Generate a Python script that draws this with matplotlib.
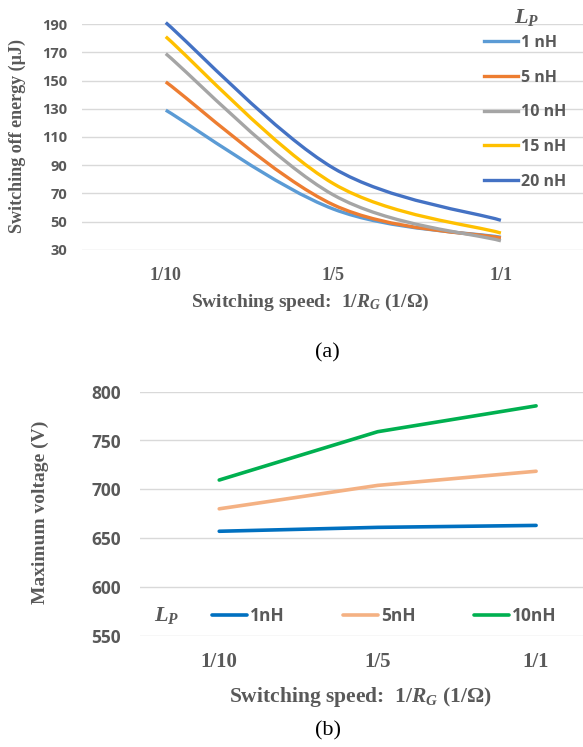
import matplotlib
matplotlib.use('Agg')
import matplotlib.pyplot as plt
from matplotlib.path import Path
from matplotlib.patches import PathPatch
from matplotlib.lines import Line2D

# ---------------- data ----------------
categories = ['1/10', '1/5', '1/1']

energy_labels = ['1 nH', '5 nH', '10 nH', '15 nH', '20 nH']
energy_1nH = [129, 59, 39]
energy_5nH = [149, 62, 38.5]
energy_10nH = [169, 69, 36.5]
energy_15nH = [181, 77, 42]
energy_20nH = [191, 88, 51]
energy_ticks = [30, 50, 70, 90, 110, 130, 150, 170, 190]

voltage_labels = ['1nH', '5nH', '10nH']
voltage_1nH = [657, 661, 663]
voltage_5nH = [680, 704, 718.5]
voltage_10nH = [709.5, 759, 785.5]
voltage_ticks = [550, 600, 650, 700, 750, 800]

energy_colors = ['#5B9BD5', '#ED7D31', '#A5A5A5', '#FFC000', '#4472C4']
voltage_colors = ['#0070C0', '#F4B183', '#00B050']

# ---------------- style ----------------
plt.rcParams['mathtext.fontset'] = 'custom'
plt.rcParams['mathtext.rm'] = 'Liberation Serif:bold'
plt.rcParams['mathtext.it'] = 'Liberation Serif:italic:bold'
plt.rcParams['mathtext.bf'] = 'Liberation Serif:bold'

TXT = '#595959'
GRID = '#D9D9D9'
SERIF = 'Liberation Serif'
SANS = 'Open Sans'

W, H = 583, 747
fig = plt.figure(figsize=(W / 100, H / 100), dpi=100)


def fx(px):
    return px / W


def fy(py):
    return 1 - py / H


def smooth_path(xs, ys):
    """Catmull-Rom style smoothed line through the points (as Excel does)."""
    pts = list(zip(xs, ys))
    n = len(pts)
    verts = [pts[0]]
    codes = [Path.MOVETO]
    for i in range(n - 1):
        p0 = pts[i - 1] if i > 0 else pts[i]
        p1 = pts[i]
        p2 = pts[i + 1]
        p3 = pts[i + 2] if i + 2 < n else pts[i + 1]
        c1 = (p1[0] + (p2[0] - p0[0]) / 6, p1[1] + (p2[1] - p0[1]) / 6)
        c2 = (p2[0] - (p3[0] - p1[0]) / 6, p2[1] - (p3[1] - p1[1]) / 6)
        verts += [c1, c2, p2]
        codes += [Path.CURVE4] * 3
    return Path(verts, codes)


def style_axes(ax, ticks, ylab_size, ypad, xlab_size, xpad):
    for s in ax.spines.values():
        s.set_visible(False)
    ax.set_yticks(ticks)
    ax.yaxis.grid(True, color=GRID, lw=1.0)
    ax.xaxis.grid(False)
    ax.set_axisbelow(True)
    ax.tick_params(axis='both', length=0)
    ax.tick_params(axis='y', pad=ypad)
    ax.tick_params(axis='x', pad=xpad)
    ax.set_xticks(range(len(categories)))
    ax.set_xticklabels(categories, fontfamily=SERIF, fontweight='bold',
                       fontsize=xlab_size, color=TXT)
    for lab in ax.get_yticklabels():
        lab.set_fontfamily(SANS)
        lab.set_fontweight('bold')
        lab.set_fontsize(ylab_size)
        lab.set_color(TXT)


# ---------------- (a) switching-off energy ----------------
ax1 = fig.add_axes([fx(82), fy(250), 1 - fx(82), (250 - 24) / H])
xs = list(range(len(categories)))
energy_series = [energy_1nH, energy_5nH, energy_10nH, energy_15nH, energy_20nH]
handles = []
for vals, col, lab in zip(energy_series, energy_colors, energy_labels):
    patch = PathPatch(smooth_path(xs, vals), facecolor='none', edgecolor=col,
                      lw=2.4, capstyle='butt', clip_on=False, zorder=3)
    ax1.add_patch(patch)
    handles.append(Line2D([], [], color=col, lw=2.4))
ax1.set_xlim(-0.5, 2.49)
ax1.set_ylim(30, 190)
style_axes(ax1, energy_ticks, 10.5, 10.5, 13, 12)

leg1 = ax1.legend(handles, energy_labels, loc='upper left',
                  bbox_to_anchor=(fx(484), fy(35)), bbox_transform=fig.transFigure,
                  frameon=False, borderpad=0, borderaxespad=0,
                  handlelength=2.1, handletextpad=0.2, labelspacing=1.17,
                  prop={'family': SANS, 'weight': 'bold', 'size': 11.5})
for t in leg1.get_texts():
    t.set_color(TXT)
fig.text(fx(527), fy(17), r'$L_P$', ha='center', va='center', fontsize=16, color=TXT)

fig.text(fx(310), fy(302), r'Switching speed:  1/$R_G$ (1/Ω)', ha='center', va='center',
         fontfamily=SERIF, fontweight='bold', fontsize=14, color=TXT)
fig.text(fx(17), fy(136), 'Switching off energy (µJ)', ha='center', va='center',
         rotation=90, fontfamily=SERIF, fontweight='bold', fontsize=13, color=TXT)
fig.text(fx(327), fy(353), '(a)', ha='center', va='center',
         fontfamily=SERIF, fontsize=16, color='black')

# ---------------- (b) maximum voltage ----------------
ax2 = fig.add_axes([fx(140), fy(635.7), 1 - fx(140), (635.7 - 391.7) / H])
voltage_series = [voltage_1nH, voltage_5nH, voltage_10nH]
for vals, col, lab in zip(voltage_series, voltage_colors, voltage_labels):
    ax2.plot(xs, vals, color=col, lw=2.6, solid_capstyle='round', label=lab, zorder=3)
ax2.set_xlim(-0.5, 2.296)
ax2.set_ylim(550, 800)
style_axes(ax2, voltage_ticks, 12.5, 13.5, 15, 12)

leg2 = ax2.legend(loc='center left', ncol=3,
                  bbox_to_anchor=(fx(212), fy(616)), bbox_transform=fig.transFigure,
                  frameon=False, borderpad=0, borderaxespad=0,
                  handlelength=2.0, handletextpad=0.2, columnspacing=3.35,
                  prop={'family': SANS, 'weight': 'bold', 'size': 12.5})
for t in leg2.get_texts():
    t.set_color(TXT)
fig.text(fx(167), fy(616), r'$L_P$', ha='center', va='center', fontsize=16, color=TXT)

fig.text(fx(360), fy(697), r'Switching speed:  1/$R_G$ (1/Ω)', ha='center', va='center',
         fontfamily=SERIF, fontweight='bold', fontsize=15.5, color=TXT)
fig.text(fx(40), fy(512), 'Maximum voltage (V)', ha='center', va='center',
         rotation=90, fontfamily=SERIF, fontweight='bold', fontsize=14, color=TXT)
fig.text(fx(328), fy(731), '(b)', ha='center', va='center',
         fontfamily=SERIF, fontsize=16, color='black')

fig.savefig('out.png', dpi=100)
